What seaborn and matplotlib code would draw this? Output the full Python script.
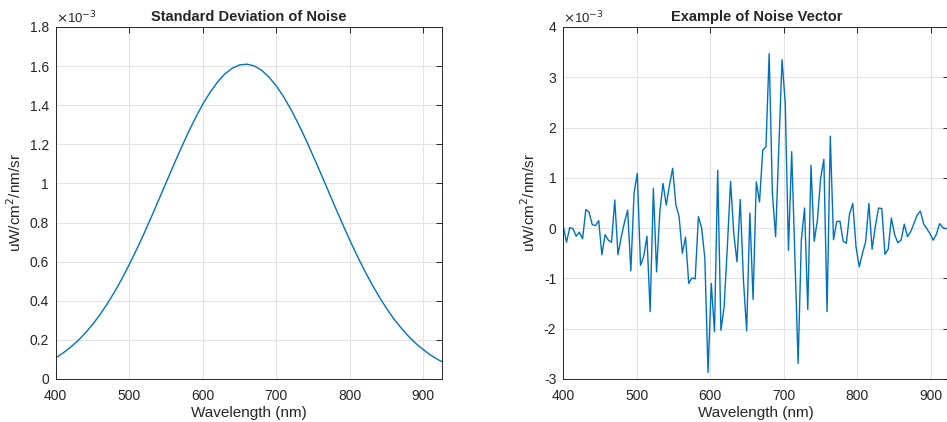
import numpy as np
import pandas as pd
import matplotlib
matplotlib.use('Agg')
import matplotlib.pyplot as plt
from matplotlib.ticker import FuncFormatter, MultipleLocator
import seaborn as sns

# Standard deviation of noise (x1e-3), read every 10 nm
std_wl = list(range(400, 930, 10)) + [925]
std_wl = sorted(set(std_wl))
std_val = [0.108, 0.133, 0.162, 0.195, 0.234, 0.278, 0.328, 0.384, 0.445, 0.512,
           0.585, 0.662, 0.743, 0.828, 0.915, 1.003, 1.090, 1.176, 1.258, 1.335,
           1.405, 1.466, 1.518, 1.560, 1.589, 1.606, 1.610, 1.601, 1.579, 1.544,
           1.499, 1.443, 1.378, 1.305, 1.226, 1.142, 1.056, 0.968, 0.880, 0.794,
           0.710, 0.630, 0.555, 0.485, 0.420, 0.361, 0.307, 0.260, 0.218, 0.181,
           0.150, 0.122, 0.099, 0.089]

# Example noise vector (x1e-3), 121 bands from 400 to 925 nm
noise_wl = np.linspace(400, 925, 121)
noise_val = [0.03, -0.28, 0.01, -0.01, -0.16, -0.08, -0.21, 0.37, 0.32, 0.07,
             0.05, 0.15, -0.53, -0.13, -0.24, -0.28, 0.56, -0.53, -0.18, 0.11,
             0.36, -0.85, 0.70, 1.09, -0.74, -0.56, -0.16, -1.66, 0.79, -0.87,
             0.32, 0.89, 0.46, 0.85, 1.19, 0.46, 0.23, -0.50, -0.18, -1.10,
             -0.99, -1.01, 0.23, 0.01, -0.60, -2.87, -1.10, -2.06, 1.15, -2.03,
             -1.56, -0.37, 0.93, -0.11, -0.67, 0.57, -1.03, -2.04, 0.30, -1.42,
             0.92, 0.52, 1.55, 1.62, 3.47, 0.69, -0.17, 1.60, 3.35, 2.48,
             -0.44, 1.52, -0.58, -2.69, -0.24, 0.40, -1.62, 1.25, -0.26, 0.16,
             0.99, 1.37, -1.66, 1.83, -0.23, 0.13, 0.14, -0.26, -0.30, 0.29,
             0.49, -0.37, -0.77, -0.50, -0.27, 0.49, -0.42, 0.03, 0.40, 0.39,
             -0.52, -0.42, 0.20, -0.13, -0.29, -0.24, 0.08, -0.17, -0.07, 0.09,
             0.26, 0.34, 0.09, -0.01, -0.11, -0.24, -0.12, 0.09, 0.01, -0.01,
             -0.02]

std_df = pd.DataFrame({'wl': std_wl, 'val': std_val})
noise_df = pd.DataFrame({'wl': noise_wl, 'val': noise_val})

sns.set_theme(style='white')
plt.rcParams['font.family'] = ['Liberation Sans', 'DejaVu Sans']
plt.rcParams['axes.edgecolor'] = '#262626'
plt.rcParams['axes.linewidth'] = 0.7

line_color = '#0072BD'
fig = plt.figure(figsize=(9.47, 4.22), dpi=100)
ax1 = fig.add_axes([55.7 / 947, 43 / 422, 386 / 947, 352 / 422])
ax2 = fig.add_axes([563.3 / 947, 43 / 422, 386 / 947, 352 / 422])

sns.lineplot(data=std_df, x='wl', y='val', ax=ax1, color=line_color, linewidth=1.0)
sns.lineplot(data=noise_df, x='wl', y='val', ax=ax2, color=line_color, linewidth=1.0)

fmt = FuncFormatter(lambda v, p: '%g' % round(v, 6))
for ax, title, ylim, step in [(ax1, 'Standard Deviation of Noise', (0, 1.8), 0.2),
                              (ax2, 'Example of Noise Vector', (-3, 4), 1)]:
    ax.set_xlim(400, 925)
    ax.set_ylim(*ylim)
    ax.xaxis.set_major_locator(MultipleLocator(100))
    ax.yaxis.set_major_locator(MultipleLocator(step))
    ax.yaxis.set_major_formatter(fmt)
    ax.grid(True, color='#e3e3e3', linewidth=0.8)
    ax.set_axisbelow(True)
    ax.tick_params(direction='in', top=True, right=True, length=4, width=0.7,
                   labelsize=10, colors='#262626')
    ax.tick_params(axis='x', pad=7)
    ax.tick_params(axis='y', pad=5)
    ax.set_title(title, fontsize=10.5, fontweight='bold', pad=4)
    ax.set_xlabel('Wavelength (nm)', fontsize=11, color='#262626', labelpad=2)
    ax.set_ylabel('uW/cm$^2$/nm/sr', fontsize=11, color='#262626')
    for s in ax.spines.values():
        s.set_visible(True)
    ax.text(0.0, 1.003, r'$\times$10$^{-3}$', transform=ax.transAxes,
            ha='left', va='bottom', fontsize=9.5, color='#262626')

fig.savefig('out.png', dpi=100)
